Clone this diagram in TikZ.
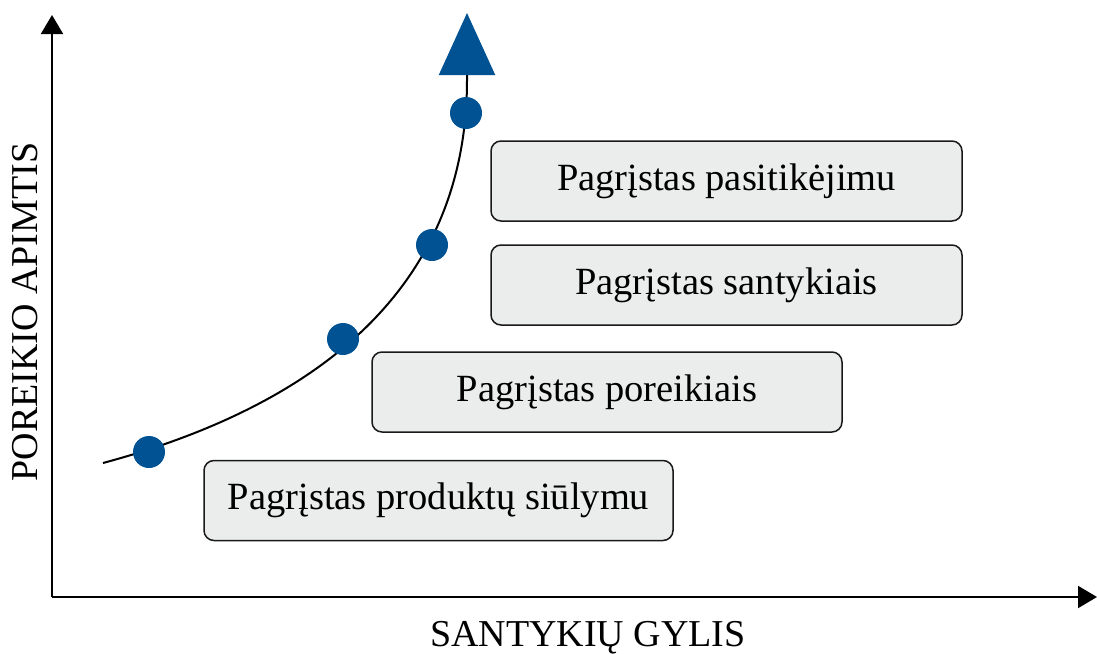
\documentclass[tikz,border=0pt]{standalone}
\usepackage{fontspec}
\setmainfont{Liberation Serif}
\usetikzlibrary{arrows.meta}
\definecolor{dotblue}{RGB}{0,82,147}
\definecolor{boxfill}{RGB}{235,236,236}
\definecolor{boxline}{RGB}{25,25,25}
\begin{document}
\begin{tikzpicture}[x=1pt,y=-1pt,
  axis/.style={line width=2pt,-{Triangle[length=19pt,width=22pt]}},
  stagebox/.style={draw=boxline,fill=boxfill,line width=1.5pt,rounded corners=10pt,
    minimum height=80pt,inner sep=0pt},
  stagetext/.style={font=\fontsize{38.5}{40}\selectfont,inner sep=0pt},
  dot/.style={circle,fill=dotblue,inner sep=0pt,minimum size=32pt},
  axislabel/.style={font=\fontsize{38}{40}\selectfont,inner sep=0pt}]
\useasboundingbox (0,0) rectangle (1097,653);

% axes
\coordinate (origin) at (52,597);
\coordinate (ytip) at (52,15);
\coordinate (xtip) at (1097,597);
\draw[axis] (origin) -- (ytip);
\draw[axis] (origin) -- (xtip);

% axis labels
\node[axislabel,anchor=base] (xlab) at (588,646) {SANTYKIŲ GYLIS};
\node[axislabel,anchor=base,rotate=90] (ylab) at (37,312) {POREIKIO APIMTIS};

% stage boxes
\node[stagebox,minimum width=471pt] (b1) at (726.5,181) {};
\node[stagetext] at (b1) {Pagrįstas pasitikėjimu};
\node[stagebox,minimum width=471pt] (b2) at (726.5,285) {};
\node[stagetext] at (b2) {Pagrįstas santykiais};
\node[stagebox,minimum width=470pt] (b3) at (607,392) {};
\node[stagetext] at (b3) {Pagrįstas poreikiais};
\node[stagebox,minimum width=469pt] (b4) at (438.5,500.5) {};
\node[stagetext] at (b4) {Pagrįstas produktų siūlymu};

% growth curve ending in a large arrowhead
\coordinate (cstart) at (103,463);
\coordinate (cend) at (467,80);
\coordinate (ctip) at (467,13);
\draw[line width=2pt,-{Triangle[length=62pt,width=56pt,color=dotblue]}]
  (cstart) .. controls (300,410) and (467,300) .. (cend) -- (ctip);

% points on the curve
\node[dot] (p1) at (149,452) {};
\node[dot] (p2) at (343,339) {};
\node[dot] (p3) at (432,245) {};
\node[dot] (p4) at (466,113) {};
\end{tikzpicture}
\end{document}
